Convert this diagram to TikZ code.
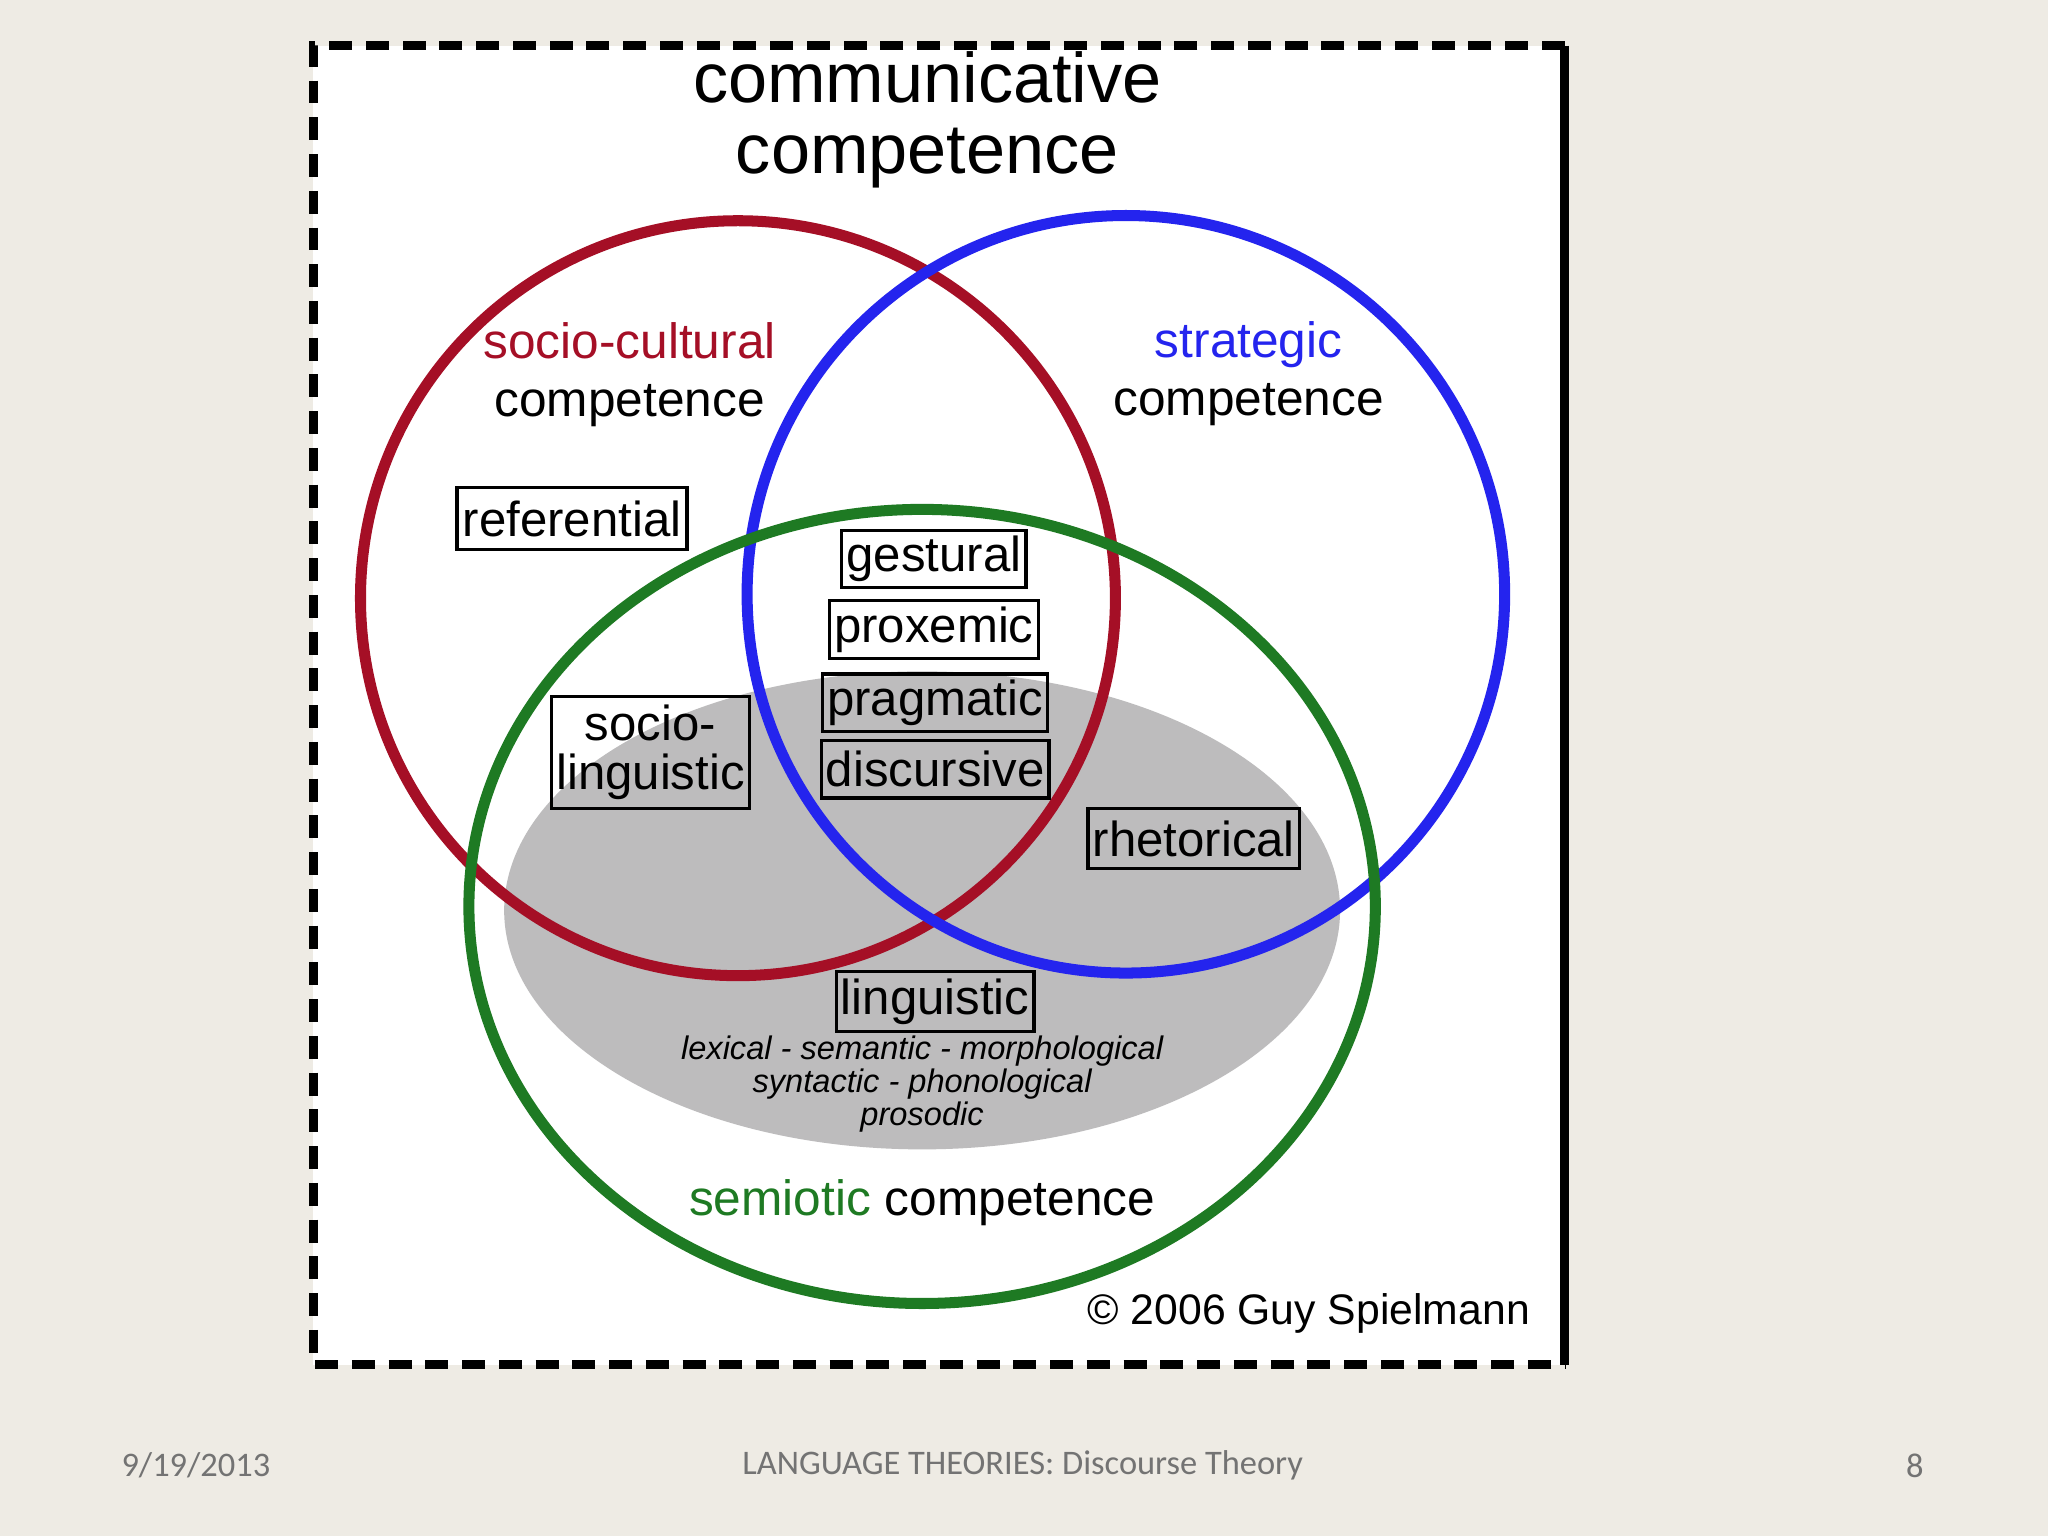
\documentclass[tikz,border=0pt]{standalone}
\usepackage{fontspec}
\setmainfont{Liberation Sans}
\newfontfamily\foot{Carlito}
\definecolor{bgc}{HTML}{EEEBE4}
\definecolor{cred}{HTML}{A50F26}
\definecolor{cblue}{HTML}{2424EE}
\definecolor{cgreen}{HTML}{1E7A23}
\definecolor{cgray}{HTML}{BDBCBD}
\begin{document}
\begin{tikzpicture}[x=0.01cm,y=-0.01cm,
  lbl/.style={font=\fontsize{10.8}{12.5}\selectfont, align=center, inner sep=0pt},
  tbox/.style={draw=black, line width=0.7pt, fill=none, font=\fontsize{10.7}{11.5}\selectfont, inner sep=1pt, align=center},
  ring/.style={line width=2.4pt},
  ft/.style={font=\foot\fontsize{7.5}{9}\selectfont, text=black!55}]
\useasboundingbox (0,0) rectangle (1568,1176);
\fill[bgc] (0,0) rectangle (1568,1176);
\fill[white] (240,35) rectangle (1198,1045);
\draw[line width=2pt, dash pattern=on 5pt off 3pt] (1198,35) -- (240,35) -- (240,1045) -- (1198,1045);
\draw[line width=2pt] (1198,35) -- (1198,1045);
\node[lbl, font=\fontsize{15.3}{15.5}\selectfont] (title) at (710,92) {communicative\\competence};
\fill[cgray] (706,697) ellipse [x radius=320, y radius=183];
\draw[ring, cred] (565,458) circle [radius=289];
\draw[ring, cblue] (862,455) circle [radius=290];
\draw[ring, cgreen] (706,694) ellipse [x radius=347, y radius=304];
\node[lbl] (sc) at (482,287) {\textcolor{cred}{socio-cultural}\\competence};
\node[lbl] (st) at (956,286) {\textcolor{cblue}{strategic}\\competence};
\node[tbox, minimum width=1.76cm, minimum height=0.48cm] (ref) at (438,397) {referential};
\node[tbox, minimum width=1.32cm, minimum height=0.44cm] (ges) at (715,428) {gestural};
\node[tbox, minimum width=1.50cm, minimum height=0.44cm] (pro) at (715,482) {proxemic};
\node[tbox, minimum width=1.62cm, minimum height=0.44cm] (pra) at (716,538) {pragmatic};
\node[tbox, minimum width=1.62cm, minimum height=0.44cm] (dis) at (716,589) {discursive};
\node[tbox, minimum width=1.52cm, minimum height=0.86cm, font=\fontsize{10.7}{10.5}\selectfont] (sl) at (498,576) {socio-\\linguistic};
\node[tbox, minimum width=1.62cm, minimum height=0.46cm] (rhe) at (914,642) {rhetorical};
\node[tbox, minimum width=1.48cm, minimum height=0.46cm] (lin) at (716,767) {linguistic};
\node[lbl, font=\itshape\fontsize{7.1}{7.1}\selectfont] (sub) at (706,830) {lexical - semantic - morphological\\syntactic - phonological\\prosodic};
\node[lbl] (sem) at (706,921) {\textcolor{cgreen}{semiotic} competence};
\node[lbl, font=\fontsize{9.3}{11}\selectfont, anchor=east] (copy) at (1172,1006) {© 2006 Guy Spielmann};
\node[ft] (d) at (150,1122) {9/19/2013};
\node[ft] (t) at (783,1122) {LANGUAGE THEORIES: Discourse Theory};
\node[ft] (n) at (1466,1122) {8};
\end{tikzpicture}
\end{document}
